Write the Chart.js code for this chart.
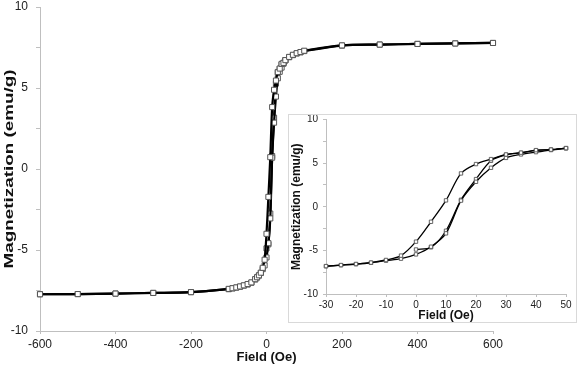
<!DOCTYPE html>
<html><head><meta charset="utf-8">
<script src="https://cdn.jsdelivr.net/npm/chart.js@4"></script>
<style>
html,body{margin:0;padding:0;background:#fff;}
#wrap{position:relative;width:579px;height:366px;overflow:hidden;}
#main{position:absolute;left:0;top:0;}
#inset{position:absolute;left:288px;top:114px;width:289px;height:209px;box-sizing:border-box;border:1px solid #d9d9d9;background:#fff;}
#ic{display:block;}
</style></head><body>
<div id="wrap"><canvas id="main" width="579" height="366"></canvas>
<div id="inset"><canvas id="ic" width="287" height="207"></canvas></div></div>
<script>
// Field values (Oe)
const field = [-600,-500,-400,-300,-200,-100,-90,-80,-70,-60,-50,-40,-30,-25,-20,-15,-10,-5,0,5,10,15,20,25,30,35,40,45,50,60,70,80,90,100,200,300,400,500,600];
// Descending (upper) branch magnetization (emu/g)
const upperBranch = [-7.73,-7.72,-7.69,-7.65,-7.6,-7.4,-7.36,-7.31,-7.25,-7.18,-7.1,-7.0,-6.8,-6.68,-6.56,-6.4,-6.1,-5.6,-4.0,-1.72,0.73,3.82,4.89,5.46,5.99,6.2,6.49,6.55,6.72,6.92,7.05,7.15,7.22,7.3,7.63,7.68,7.72,7.75,7.78];
// Ascending (lower) branch magnetization (emu/g)
const lowerBranch = [-7.73,-7.72,-7.69,-7.65,-7.6,-7.42,-7.37,-7.32,-7.27,-7.2,-7.13,-7.02,-6.82,-6.7,-6.58,-6.42,-6.18,-5.95,-5.46,-4.58,-3.05,0.7,2.86,4.47,5.6,6.0,6.26,6.5,6.7,6.9,7.03,7.13,7.2,7.28,7.62,7.68,7.72,7.75,7.78];
// Initial branch
const initialField = [0,5,10,15,20,25,30,35,40,45,50];
const initialBranch = [-4.9,-4.65,-2.75,0.8,3.17,5.27,5.95,6.18,6.45,6.55,6.72];
// Ticks
const mainXTicks = [-600,-400,-200,0,200,400,600];
const insetXTicks = [-30,-20,-10,0,10,20,30,40,50];
const yTickLabels = [-10,-5,0,5,10];

const FONT = '"Liberation Sans", Arial, sans-serif';
const pts = (xs, ys, lo, hi) => xs.map((x,i)=>({x, y: ys[i]})).filter(p => p.x >= lo && p.x <= hi);

function ds(data, r, bw, lw){
  return {data, showLine:true, borderColor:'#000', borderWidth:lw, tension:0.3,
    pointStyle:'rect', pointRadius:r, pointHoverRadius:r, pointBackgroundColor:'#fff',
    pointBorderColor:'#555', pointBorderWidth:bw, clip:false};
}

const yTitlePlugin = { id:'ytitle', afterDraw(chart){
  const c = chart.ctx; c.save();
  c.translate(9,169); c.rotate(-Math.PI/2); c.scale(1.45,1);
  c.font = 'bold 13px ' + FONT; c.fillStyle = '#111';
  c.textAlign = 'center'; c.textBaseline = 'middle';
  c.fillText('Magnetization (emu/g)', 0, 0); c.restore();
}};

new Chart(document.getElementById('main'), {
  type:'scatter',
  data:{ datasets:[
    ds(pts(field, upperBranch, -600, 600), 3.6, 1, 2.2),
    ds(pts(field, lowerBranch, -600, 600), 3.6, 1, 2.2),
    ds(pts(initialField, initialBranch, -600, 600), 3.6, 1, 2.2)
  ]},
  options:{
    responsive:false, animation:false, devicePixelRatio:1,
    layout:{autoPadding:false, padding:{top:0,right:86,left:0,bottom:0}},
    plugins:{legend:{display:false}, tooltip:{enabled:false}},
    scales:{
      x:{ type:'linear', min:-600, max:600,
        afterBuildTicks: s => { s.ticks = mainXTicks.map(v=>({value:v})); },
        afterFit: s => { s.height = 35; s.paddingLeft = 0; s.paddingRight = 0; },
        grid:{display:true, drawOnChartArea:false, drawTicks:true, tickLength:3, color:'#bfbfbf'},
        border:{color:'#bfbfbf', width:1},
        ticks:{font:{family:FONT,size:12}, color:'#222', padding:3, maxRotation:0},
        title:{display:true, text:'Field (Oe)', font:{family:FONT,size:13,weight:'bold'}, color:'#111', padding:{top:0,bottom:1}}
      },
      y:{ type:'linear', min:-10, max:10,
        ticks:{stepSize:2.5, font:{family:FONT,size:12}, color:'#222', padding:8,
          callback: v => yTickLabels.includes(v) ? String(v) : ''},
        afterFit: s => { s.width = 40; s.paddingTop = 7; s.paddingBottom = 0; },
        grid:{display:true, drawOnChartArea:false, drawTicks:true, tickLength:4, color:'#bfbfbf'},
        border:{color:'#bfbfbf', width:1},
        title:{display:false}
      }
    }
  },
  plugins:[yTitlePlugin]
});

new Chart(document.getElementById('ic'), {
  type:'scatter',
  data:{ datasets:[
    ds(pts(field, upperBranch, -30, 50), 2.4, 0.9, 1.3),
    ds(pts(field, lowerBranch, -30, 50), 2.4, 0.9, 1.3),
    ds(pts(initialField, initialBranch, -30, 50), 2.4, 0.9, 1.3)
  ]},
  options:{
    responsive:false, animation:false, devicePixelRatio:1,
    layout:{autoPadding:false, padding:{top:0,right:10,left:0,bottom:0}},
    plugins:{legend:{display:false}, tooltip:{enabled:false}},
    scales:{
      x:{ type:'linear', min:-30, max:50,
        afterBuildTicks: s => { s.ticks = insetXTicks.map(v=>({value:v})); },
        afterFit: s => { s.height = 28; s.paddingLeft = 0; s.paddingRight = 0; },
        grid:{display:true, drawOnChartArea:false, drawTicks:true, tickLength:3, color:'#bfbfbf'},
        border:{color:'#bfbfbf', width:1},
        ticks:{font:{family:FONT,size:10}, color:'#222', padding:2, maxRotation:0},
        title:{display:true, text:'Field (Oe)', font:{family:FONT,size:12,weight:'bold',lineHeight:1}, color:'#111', padding:{top:0,bottom:0}}
      },
      y:{ type:'linear', min:-10, max:10,
        ticks:{stepSize:2.5, font:{family:FONT,size:10}, color:'#222', padding:5,
          callback: v => yTickLabels.includes(v) ? String(v) : ''},
        afterFit: s => { s.width = 37; s.paddingTop = 4.5; s.paddingBottom = 0; },
        grid:{display:true, drawOnChartArea:false, drawTicks:true, tickLength:3, color:'#bfbfbf'},
        border:{color:'#bfbfbf', width:1},
        title:{display:true, text:'Magnetization (emu/g)', font:{family:FONT,size:12,weight:'bold',lineHeight:1}, color:'#111', padding:{top:2,bottom:0}}
      }
    }
  }
});
</script>
</body></html>
